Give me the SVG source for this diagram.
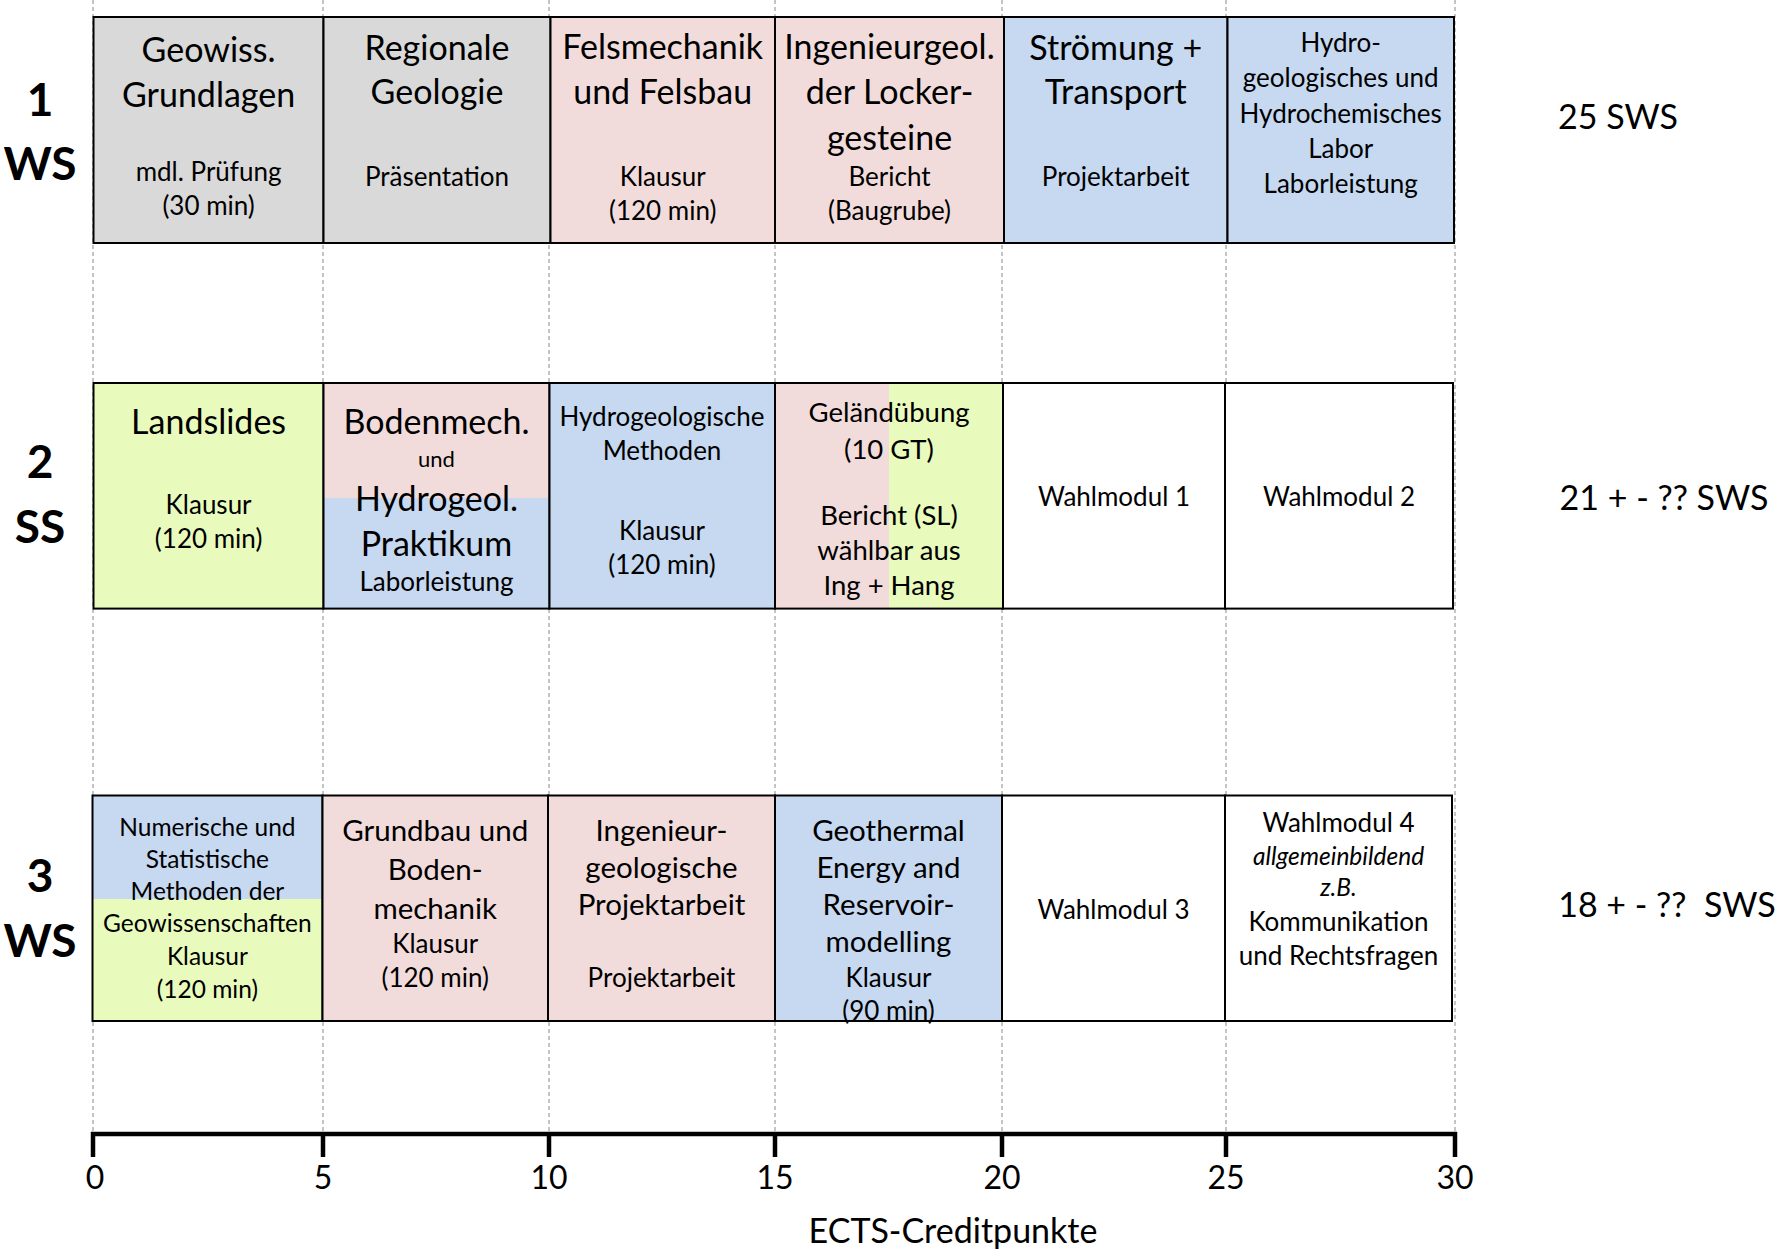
<svg xmlns="http://www.w3.org/2000/svg" width="1787" height="1253" viewBox="0 0 1787 1253">
<style>
text{font-family:Lato,"Liberation Sans",sans-serif;fill:#000;text-anchor:middle}
.big{font-size:34px}
.med{font-size:29.5px}
.sm{font-size:26px}
.xs{font-size:24.5px}
.tiny{font-size:22px}
.lbl{font-size:46px;font-weight:bold}
.sws{font-size:34px}
.tick{font-size:32px}
.it{font-style:italic}
.grid{stroke:#8a8a8a;stroke-width:1;stroke-dasharray:4 3;fill:none}
.box{stroke:#000;stroke-width:2;fill:none}
.gr{fill:#d9d9d9}
.pk{fill:#f2dcdb}
.bl{fill:#c6d9f1}
.gn{fill:#e8fbbd}
.wh{fill:#fff}
</style>
<rect width="1787" height="1253" fill="#fff"/>
<g id="grid">
<line class="grid" x1="93" y1="0" x2="93" y2="1134"/>
<line class="grid" x1="323" y1="0" x2="323" y2="1134"/>
<line class="grid" x1="549" y1="0" x2="549" y2="1134"/>
<line class="grid" x1="775" y1="0" x2="775" y2="1134"/>
<line class="grid" x1="1002" y1="0" x2="1002" y2="1134"/>
<line class="grid" x1="1226" y1="0" x2="1226" y2="1134"/>
<line class="grid" x1="1455" y1="0" x2="1455" y2="1134"/>
</g>
<g id="labels">
<text class="lbl" x="40" y="115.5">1</text>
<text class="lbl" x="40" y="179.5">WS</text>
<text class="lbl" x="40" y="478">2</text>
<text class="lbl" x="40" y="543">SS</text>
<text class="lbl" x="40" y="891.5">3</text>
<text class="lbl" x="40" y="956.5">WS</text>
<text class="sws" x="1618" y="129.4">25 SWS</text>
<text class="sws" x="1664" y="510">21 + - ?? SWS</text>
<text class="sws" x="1667" y="917" style="white-space:pre">18 + - ??  SWS</text>
</g>
<!-- Row 1 -->
<g id="r1c1"><rect class="gr" x="93.5" y="17" width="230" height="226"/><rect class="box" x="93.5" y="17" width="230" height="226"/>
<text class="big" x="208.6" y="62">Geowiss.</text><text class="big" x="208.6" y="106.6">Grundlagen</text>
<text class="sm" x="208.6" y="181">mdl. Prüfung</text><text class="sm" x="208.6" y="215">(30 min)</text></g>
<g id="r1c2"><rect class="gr" x="323.5" y="17" width="227" height="226"/><rect class="box" x="323.5" y="17" width="227" height="226"/>
<text class="big" x="437" y="60">Regionale</text><text class="big" x="437" y="104.3">Geologie</text>
<text class="sm" x="437" y="185.6">Präsentation</text></g>
<g id="r1c3"><rect class="pk" x="550.5" y="17" width="224.5" height="226"/><rect class="box" x="550.5" y="17" width="224.5" height="226"/>
<text class="big" x="662.7" y="58.7">Felsmechanik</text><text class="big" x="662.7" y="104.3">und Felsbau</text>
<text class="sm" x="662.7" y="185.6">Klausur</text><text class="sm" x="662.7" y="219.8">(120 min)</text></g>
<g id="r1c4"><rect class="pk" x="775" y="17" width="229" height="226"/><rect class="box" x="775" y="17" width="229" height="226"/>
<text class="big" x="889.5" y="58.7">Ingenieurgeol.</text><text class="big" x="889.5" y="104.3">der Locker-</text><text class="big" x="889.5" y="149.9">gesteine</text>
<text class="sm" x="889.5" y="185.6">Bericht</text><text class="sm" x="889.5" y="219.8">(Baugrube)</text></g>
<g id="r1c5"><rect class="bl" x="1004" y="17" width="223.5" height="226"/><rect class="box" x="1004" y="17" width="223.5" height="226"/>
<text class="big" x="1115.7" y="60">Strömung +</text><text class="big" x="1115.7" y="104.3">Transport</text>
<text class="sm" x="1115.7" y="185.6">Projektarbeit</text></g>
<g id="r1c6"><rect class="bl" x="1227.5" y="17" width="226.5" height="226"/><rect class="box" x="1227.5" y="17" width="226.5" height="226"/>
<text class="sm" x="1340.7" y="52.3">Hydro-</text><text class="sm" x="1340.7" y="86.5">geologisches und</text><text class="sm" x="1340.7" y="123">Hydrochemisches</text>
<text class="sm" x="1340.7" y="158.3">Labor</text><text class="sm" x="1340.7" y="192.5">Laborleistung</text></g>
<!-- Row 2 -->
<g id="r2c1"><rect class="gn" x="93.5" y="383" width="230" height="225.6"/><rect class="box" x="93.5" y="383" width="230" height="225.6"/>
<text class="big" x="208.6" y="433.7">Landslides</text>
<text class="sm" x="208.6" y="513.9">Klausur</text><text class="sm" x="208.6" y="548">(120 min)</text></g>
<g id="r2c2"><rect class="pk" x="323.5" y="383" width="226" height="115"/><rect class="bl" x="323.5" y="498" width="226" height="110.6"/><rect class="box" x="323.5" y="383" width="226" height="225.6"/>
<text class="big" x="436.5" y="433.7">Bodenmech.</text><text class="tiny" x="436.5" y="467">und</text>
<text class="big" x="436.5" y="511.2">Hydrogeol.</text><text class="big" x="436.5" y="555.6">Praktikum</text>
<text class="sm" x="436.5" y="591.4">Laborleistung</text></g>
<g id="r2c3"><rect class="bl" x="549.5" y="383" width="225.5" height="225.6"/><rect class="box" x="549.5" y="383" width="225.5" height="225.6"/>
<text class="sm" x="662" y="426">Hydrogeologische</text><text class="sm" x="662" y="460.3">Methoden</text>
<text class="sm" x="662" y="540">Klausur</text><text class="sm" x="662" y="574.3">(120 min)</text></g>
<g id="r2c4"><rect class="pk" x="775" y="383" width="114" height="225.6"/><rect class="gn" x="889" y="383" width="114" height="225.6"/><rect class="box" x="775" y="383" width="228" height="225.6"/>
<text class="med" style="font-size:27.5px" x="889" y="422.2">Geländübung</text><text class="med" style="font-size:27.5px" x="889" y="458.6">(10 GT)</text>
<text class="med" style="font-size:27.5px" x="889" y="524.6">Bericht (SL)</text><text class="med" style="font-size:27.5px" x="889" y="560.1">wählbar aus</text>
<text class="med" style="font-size:27.5px" x="889" y="595.4">Ing + Hang</text></g>
<g id="r2c5"><rect class="wh" x="1003" y="383" width="222" height="225.6"/><rect class="box" x="1003" y="383" width="222" height="225.6"/>
<text class="sm" x="1114" y="506">Wahlmodul 1</text></g>
<g id="r2c6"><rect class="wh" x="1225" y="383" width="228" height="225.6"/><rect class="box" x="1225" y="383" width="228" height="225.6"/>
<text class="sm" x="1339" y="506">Wahlmodul 2</text></g>
<!-- Row 3 -->
<g id="r3c1"><rect class="bl" x="92.5" y="795.5" width="230" height="103.5"/><rect class="gn" x="92.5" y="899" width="230" height="122"/><rect class="box" x="92.5" y="795.5" width="230" height="225.5"/>
<text class="xs" x="207.4" y="836">Numerische und</text><text class="xs" x="207.4" y="867.9">Statistische</text><text class="xs" x="207.4" y="899.8">Methoden der</text>
<text class="xs" x="207.4" y="931.8">Geowissenschaften</text><text class="xs" x="207.4" y="964.8">Klausur</text><text class="xs" x="207.4" y="997.9">(120 min)</text></g>
<g id="r3c2"><rect class="pk" x="322.5" y="795.5" width="225.5" height="225.5"/><rect class="box" x="322.5" y="795.5" width="225.5" height="225.5"/>
<text class="med" x="435.2" y="841.1">Grundbau und</text><text class="med" x="435.2" y="879.9">Boden-</text><text class="med" x="435.2" y="918.7">mechanik</text>
<text class="sm" x="435.2" y="952.7">Klausur</text><text class="sm" x="435.2" y="986.9">(120 min)</text></g>
<g id="r3c3"><rect class="pk" x="548" y="795.5" width="227" height="225.5"/><rect class="box" x="548" y="795.5" width="227" height="225.5"/>
<text class="med" x="661.5" y="841.1">Ingenieur-</text><text class="med" x="661.5" y="877.6">geologische</text><text class="med" x="661.5" y="915.3">Projektarbeit</text>
<text class="sm" x="661.5" y="986.9">Projektarbeit</text></g>
<g id="r3c4"><rect class="bl" x="775" y="795.5" width="227" height="225.5"/><rect class="box" x="775" y="795.5" width="227" height="225.5"/>
<text class="med" x="888.5" y="841.1">Geothermal</text><text class="med" x="888.5" y="877.6">Energy and</text><text class="med" x="888.5" y="915.3">Reservoir-</text>
<text class="med" x="888.5" y="951.7">modelling</text><text class="sm" x="888.5" y="986.9">Klausur</text><text class="sm" x="888.5" y="1019.9">(90 min)</text></g>
<g id="r3c5"><rect class="wh" x="1002" y="795.5" width="223" height="225.5"/><rect class="box" x="1002" y="795.5" width="223" height="225.5"/>
<text class="sm" x="1113.5" y="918.5">Wahlmodul 3</text></g>
<g id="r3c6"><rect class="wh" x="1225" y="795.5" width="227" height="225.5"/><rect class="box" x="1225" y="795.5" width="227" height="225.5"/>
<text class="sm" x="1338.5" y="831.9">Wahlmodul 4</text><text class="xs it" x="1338.5" y="864.5">allgemeinbildend</text><text class="xs it" x="1338.5" y="896.4">z.B.</text>
<text class="sm" x="1338.5" y="931">Kommunikation</text><text class="sm" x="1338.5" y="965.2">und Rechtsfragen</text></g>
<!-- Axis -->
<g id="axis" stroke="#000" stroke-width="4.5" fill="none">
<line x1="91" y1="1134" x2="1457" y2="1134"/>
<line x1="93" y1="1132" x2="93" y2="1157"/>
<line x1="323" y1="1134" x2="323" y2="1157"/>
<line x1="549" y1="1134" x2="549" y2="1157"/>
<line x1="775" y1="1134" x2="775" y2="1157"/>
<line x1="1002" y1="1134" x2="1002" y2="1157"/>
<line x1="1226" y1="1134" x2="1226" y2="1157"/>
<line x1="1455" y1="1132" x2="1455" y2="1157"/>
</g>
<g id="axis-labels">
<text class="tick" x="95" y="1189">0</text>
<text class="tick" x="323" y="1189">5</text>
<text class="tick" x="549" y="1189">10</text>
<text class="tick" x="775" y="1189">15</text>
<text class="tick" x="1002" y="1189">20</text>
<text class="tick" x="1226" y="1189">25</text>
<text class="tick" x="1455" y="1189">30</text>
<text class="sws" x="953" y="1243">ECTS-Creditpunkte</text>
</g>
</svg>
